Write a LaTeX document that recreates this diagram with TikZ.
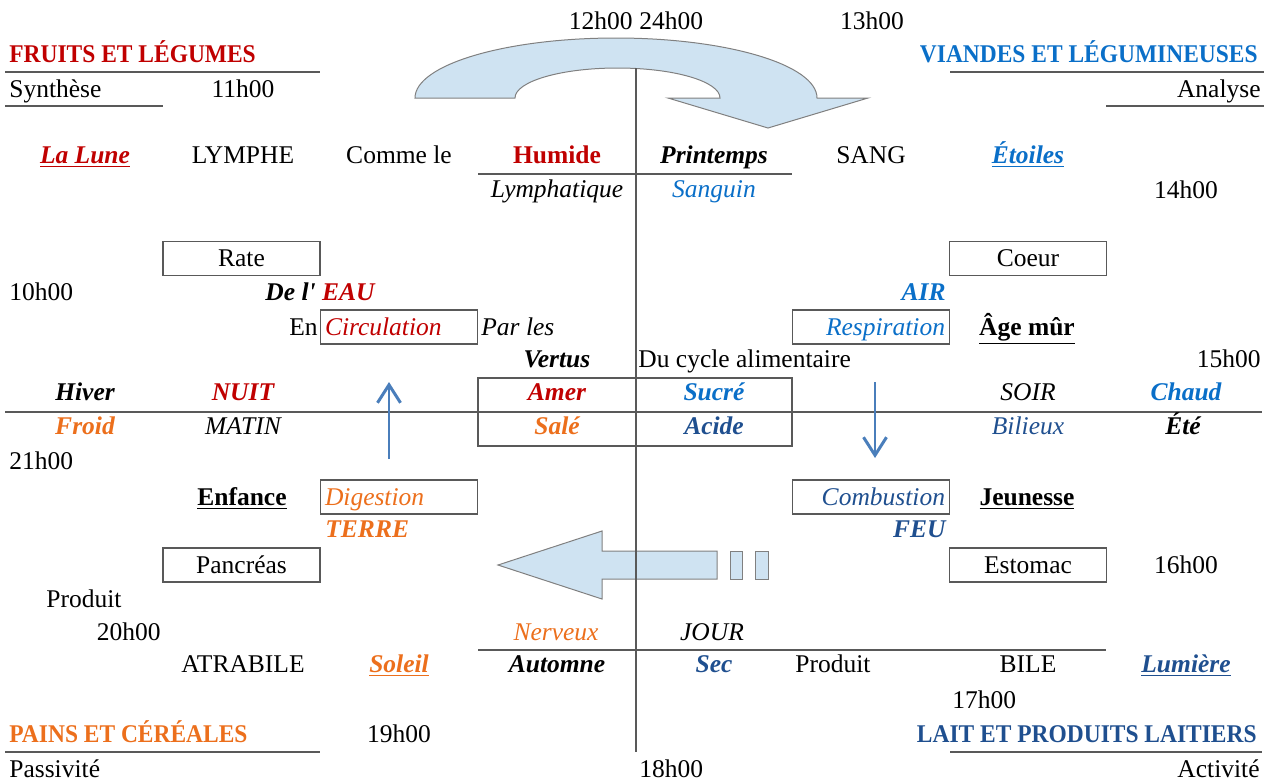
\documentclass[tikz,border=0pt]{standalone}
\usepackage{fontspec}
\setmainfont{Liberation Serif}
\newfontfamily\headfont[FakeStretch=0.92]{Liberation Serif}
\usetikzlibrary{arrows.meta}

\definecolor{terrered}{HTML}{C00000}
\definecolor{airblue}{HTML}{0A6FC8}
\definecolor{feublue}{HTML}{1F4F8F}
\definecolor{soilorange}{HTML}{EC6F1C}
\definecolor{rulegray}{HTML}{595959}
\definecolor{flowfill}{HTML}{CFE3F2}
\definecolor{pointblue}{HTML}{4A7EBB}
\newcommand\bodysize{\fontsize{12.75}{15}\selectfont}

\begin{document}
\begin{tikzpicture}[x=0.5pt, y=0.5pt]
            \tikzstyle{lbl} = [anchor=base, inner sep=0pt, font=\bodysize]
            \tikzstyle{lbll} = [lbl, anchor=base west]
            \tikzstyle{lblr} = [lbl, anchor=base east]
            \tikzstyle{bi} = [font=\bodysize\bfseries\itshape]
            \tikzstyle{it} = [font=\bodysize\itshape]
            \tikzstyle{bf} = [font=\bodysize\bfseries]
            \tikzstyle{head} = [inner sep=0pt, font=\headfont\bfseries\bodysize]
            \tikzstyle{organ} = [draw=rulegray, line width=0.7pt, inner xsep=2.25pt, inner ysep=0pt,
                text width=74pt, minimum height=17pt, text height=10pt, text depth=2pt,
                align=center, font=\bodysize]
            \tikzstyle{rule} = [draw=rulegray, line width=0.7pt]
            \tikzstyle{flow} = [draw=gray, fill=flowfill, line width=0.5pt]
            \tikzstyle{pointer} = [draw=pointblue, line width=0.6pt,
                -{Straight Barb[length=9pt, width=11.5pt, line width=1.5pt]}]
            \useasboundingbox (0, 0) rectangle (1272, -783);
            % the two big arrows
            \draw[flow] (415, -98) arc[start angle=180, end angle=0, x radius=201, y radius=60]
                -- (868, -98) -- (768, -128) -- (668, -98) -- (720, -98)
                arc[start angle=0, end angle=180, x radius=102.5, y radius=30] -- cycle;
            \draw[flow] (498, -565) -- (602, -531) -- (602, -551) -- (717, -551)
                -- (717, -579) -- (602, -579) -- (602, -599) -- cycle;
            \draw[flow] (730, -551) rectangle (742, -579);
            \draw[flow] (755, -551) rectangle (768, -579);
            % the table rules
            \draw[rule] (5, -72) -- (320, -72);
            \draw[rule] (5, -106) -- (163, -106);
            \draw[rule] (950, -72) -- (1264, -72);
            \draw[rule] (1106, -106) -- (1264, -106);
            \draw[rule] (478, -174) -- (792, -174);
            \draw[rule] (5, -412) -- (1262, -412);
            \draw[rule] (478, -650) -- (1106, -650);
            \draw[rule] (5, -752) -- (320, -752);
            \draw[rule] (950, -752) -- (1262, -752);
            \draw[rule] (636, -68) -- (636, -752);
            \draw[rule] (478, -378) rectangle (792, -446);
            % hours and titles
            \node[lblr] (t1200) at (633, -29) {12h00};
            \node[lbll] (t2400) at (639, -29) {24h00};
            \node[lbl] (t1300) at (872, -29) {13h00};
            \node[head, anchor=base west, text=terrered] (fruits) at (9, -62) {FRUITS ET LÉGUMES};
            \node[head, anchor=base east, text=airblue] (viandes) at (1258, -62) {VIANDES ET LÉGUMINEUSES};
            \node[lbll] (synthese) at (9, -97) {Synthèse};
            \node[lbl] (t1100) at (243, -97) {11h00};
            \node[lblr] (analyse) at (1261, -97) {Analyse};
            \node[lbl, bi, text=terrered] (lune) at (85, -163) {\underline{La Lune}};
            \node[lbl] (lymphe) at (243, -163) {LYMPHE};
            \node[lbl] (commele) at (399, -163) {Comme le};
            \node[lbl, bf, text=terrered] (humide) at (557, -163) {Humide};
            \node[lbl, bi] (printemps) at (714, -163) {Printemps};
            \node[lbl] (sang) at (871, -163) {SANG};
            \node[lbl, bi, text=airblue] (etoiles) at (1028, -163) {\underline{Étoiles}};
            \node[lbl, it] (lymphatique) at (557, -197) {Lymphatique};
            \node[lbl, it, text=airblue] (sanguin) at (714, -197) {Sanguin};
            \node[lbl] (t1400) at (1186, -198) {14h00};
            % upper half
            \node[organ] (rate) at (241.5, -258.5) {Rate};
            \node[organ] (coeur) at (1028, -258.5) {Coeur};
            \node[lbll] (t1000) at (9, -300) {10h00};
            \node[lbl, bi] (deleau) at (320, -300) {De l\textquotesingle{} \textcolor{terrered}{EAU}};
            \node[lblr, bi, text=airblue] (air) at (946, -300) {AIR};
            \node[lblr] (en) at (318, -335) {En};
            \node[organ, align=left, font=\bodysize\itshape, text=terrered] (circulation) at (399, -327) {Circulation};
            \node[lbll, it] (parles) at (481, -335) {Par les};
            \node[organ, align=right, font=\bodysize\itshape, text=airblue] (respiration) at (871, -327) {Respiration};
            \node[lbl, bf] (agemur) at (1027, -335) {\underline{Âge mûr}};
            \node[lbl, bi] (vertus) at (557, -367) {Vertus};
            \node[lbll] (cycle) at (638, -367) {Du cycle alimentaire};
            \node[lblr] (t1500) at (1261, -367) {15h00};
            \node[lbl, bi] (hiver) at (85, -400) {Hiver};
            \node[lbl, bi, text=terrered] (nuit) at (243, -400) {NUIT};
            \node[lbl, bi, text=terrered] (amer) at (557, -400) {Amer};
            \node[lbl, bi, text=airblue] (sucre) at (714, -400) {Sucré};
            \node[lbl, it] (soir) at (1028, -400) {SOIR};
            \node[lbl, bi, text=airblue] (chaud) at (1186, -400) {Chaud};
            % lower half
            \node[lbl, bi, text=soilorange] (froid) at (85, -434) {Froid};
            \node[lbl, it] (matin) at (243, -434) {MATIN};
            \node[lbl, bi, text=soilorange] (sale) at (557, -434) {Salé};
            \node[lbl, bi, text=feublue] (acide) at (714, -434) {Acide};
            \node[lbl, it, text=feublue] (bilieux) at (1028, -434) {Bilieux};
            \node[lbl, bi] (ete) at (1183, -434) {Été};
            \node[lbll] (t2100) at (9, -469) {21h00};
            \node[lbl, bf] (enfance) at (242, -505) {\underline{Enfance}};
            \node[organ, align=left, font=\bodysize\itshape, text=soilorange] (digestion) at (399, -497) {Digestion};
            \node[organ, align=right, font=\bodysize\itshape, text=feublue] (combustion) at (871, -497) {Combustion};
            \node[lbl, bf] (jeunesse) at (1027, -505) {\underline{Jeunesse}};
            \node[lbll, bi, text=soilorange] (terre) at (325, -537) {TERRE};
            \node[lblr, bi, text=feublue] (feu) at (946, -537) {FEU};
            \node[organ] (pancreas) at (241.5, -565) {Pancréas};
            \node[organ] (estomac) at (1028, -565) {Estomac};
            \node[lbl] (t1600) at (1186, -573) {16h00};
            \node[lbl] (produitl) at (84, -607) {Produit};
            \node[lblr] (t2000) at (161, -640) {20h00};
            \node[lbl, it, text=soilorange] (nerveux) at (556, -640) {Nerveux};
            \node[lbl, it] (jour) at (712, -640) {JOUR};
            \node[lbl] (atrabile) at (243, -672) {ATRABILE};
            \node[lbl, bi, text=soilorange] (soleil) at (399, -672) {\underline{Soleil}};
            \node[lbl, bi] (automne) at (557, -672) {Automne};
            \node[lbl, bi, text=feublue] (sec) at (714, -672) {Sec};
            \node[lbl] (produitr) at (833, -672) {Produit};
            \node[lbl] (bile) at (1028, -672) {BILE};
            \node[lbl, bi, text=feublue] (lumiere) at (1186, -672) {\underline{Lumière}};
            \node[lbll] (t1700) at (952, -708) {17h00};
            \node[head, anchor=base west, text=soilorange] (pains) at (9, -742) {PAINS ET CÉRÉALES};
            \node[lbl] (t1900) at (399, -742) {19h00};
            \node[head, anchor=base east, text=feublue] (lait) at (1257, -742) {LAIT ET PRODUITS LAITIERS};
            \node[lbll] (passivite) at (9, -777) {Passivité};
            \node[lbll] (t1800) at (639, -777) {18h00};
            \node[lblr] (activite) at (1260, -777) {Activité};
            % small arrows
            \coordinate (upfoot) at (389, -459);
            \coordinate (uptip) at (389, -382);
            \coordinate (downfoot) at (875, -382);
            \coordinate (downtip) at (875, -458);
            \draw[pointer] (upfoot) -- (uptip);
            \draw[pointer] (downfoot) -- (downtip);
        \end{tikzpicture}
\end{document}
